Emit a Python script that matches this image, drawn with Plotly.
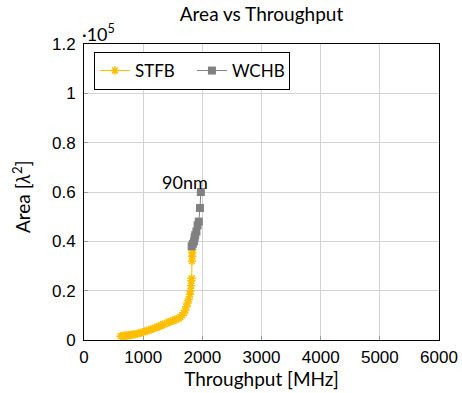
import plotly.graph_objects as go

stfb_x = [620, 650, 680, 700, 720, 750, 780, 800, 830, 860, 900, 930, 960, 1000,
          1030, 1060, 1100, 1130, 1160, 1200, 1230, 1260, 1300, 1330, 1360, 1400,
          1430, 1460, 1500, 1530, 1560, 1600, 1630, 1660, 1690, 1710, 1730, 1750,
          1770, 1790, 1800, 1810, 1815, 1820, 1825, 1828, 1830, 1832]
stfb_y = [1500, 1600, 1700, 1800, 1750, 1900, 2000, 2100, 2200, 2300, 2500, 2700,
          2900, 3200, 3500, 3700, 4000, 4300, 4500, 4900, 5200, 5500, 5900, 6200,
          6500, 6900, 7200, 7500, 7800, 8100, 8400, 8800, 9200, 10000, 11000, 12000,
          13500, 15000, 16500, 18500, 20000, 22000, 24000, 25000, 32000, 34000,
          35500, 36500]

wchb_x = [1820, 1840, 1860, 1870, 1880, 1900, 1920, 1940, 1960, 1975]
wchb_y = [38000, 39000, 40000, 41500, 42500, 44000, 46500, 48000, 53500, 60000]

x_ticks = [0, 1000, 2000, 3000, 4000, 5000, 6000]
y_ticks = [0, 20000, 40000, 60000, 80000, 100000, 120000]
y_tick_labels = ["0", "0.2", "0.4", "0.6", "0.8", "1", "1.2"]

FONT = "Lato"
TICKFONT = "Liberation Sans"

fig = go.Figure()
fig.add_trace(go.Scatter(
    x=stfb_x, y=stfb_y, mode="lines+markers", name="STFB",
    line=dict(color="#FFBF00", width=1),
    marker=dict(symbol="asterisk-open", size=7, color="#FFBF00",
                line=dict(color="#FFBF00", width=1.5)),
))
fig.add_trace(go.Scatter(
    x=wchb_x, y=wchb_y, mode="lines+markers", name="WCHB",
    line=dict(color="#808080", width=1),
    marker=dict(symbol="square", size=8, color="#808080"),
))

fig.add_annotation(x=1706, y=64000, text="90nm", showarrow=False,
                   font=dict(family=FONT, size=18, color="black"))
fig.add_annotation(x=0, y=1, xref="paper", yref="paper", text="·10<sup>5</sup>",
                   showarrow=False, xanchor="left", yanchor="bottom", yshift=-3, xshift=-4,
                   font=dict(family=FONT, size=18, color="black"))
fig.add_annotation(x=0, y=0.483, xref="paper", yref="paper", xanchor="center", yanchor="middle",
                   xshift=-63, textangle=-90, showarrow=False,
                   text="Area [<i>λ</i><sup>2</sup>]",
                   font=dict(family=FONT, size=19, color="black"))

axis_common = dict(showgrid=True, gridcolor="#d3d3d3", gridwidth=1,
                   showline=True, linecolor="black", linewidth=1, mirror=True,
                   zeroline=False, ticks="inside", ticklen=4, tickcolor="#999",
                   automargin=False,
                   tickfont=dict(family=TICKFONT, size=17, color="black"))

fig.update_xaxes(range=[0, 6000], tickvals=x_ticks, ticklabelstandoff=2,
                 title=dict(text="Throughput [MHz]", font=dict(family=FONT, size=19, color="black"), standoff=6),
                 **axis_common)
fig.update_yaxes(range=[0, 120000], tickvals=y_ticks, ticktext=y_tick_labels, ticklabelstandoff=4,
                 **axis_common)

fig.update_layout(
    width=462, height=393,
    margin=dict(l=84, r=23, t=44, b=53),
    paper_bgcolor="white", plot_bgcolor="white",
    title=dict(text="Area vs Throughput", x=0.566, xanchor="center", y=0.963, yanchor="middle",
               font=dict(family=FONT, size=19, color="black")),
    legend=dict(orientation="h", x=0.028, y=0.973, xanchor="left", yanchor="top",
                bordercolor="black", borderwidth=1, bgcolor="white",
                font=dict(family=FONT, size=17, color="black"),
                entrywidth=52, entrywidthmode="pixels", tracegroupgap=0),
    showlegend=True,
)

fig.write_html("out.html", config={"displayModeBar": False},
               post_script="document.body.style.margin='0px';")
